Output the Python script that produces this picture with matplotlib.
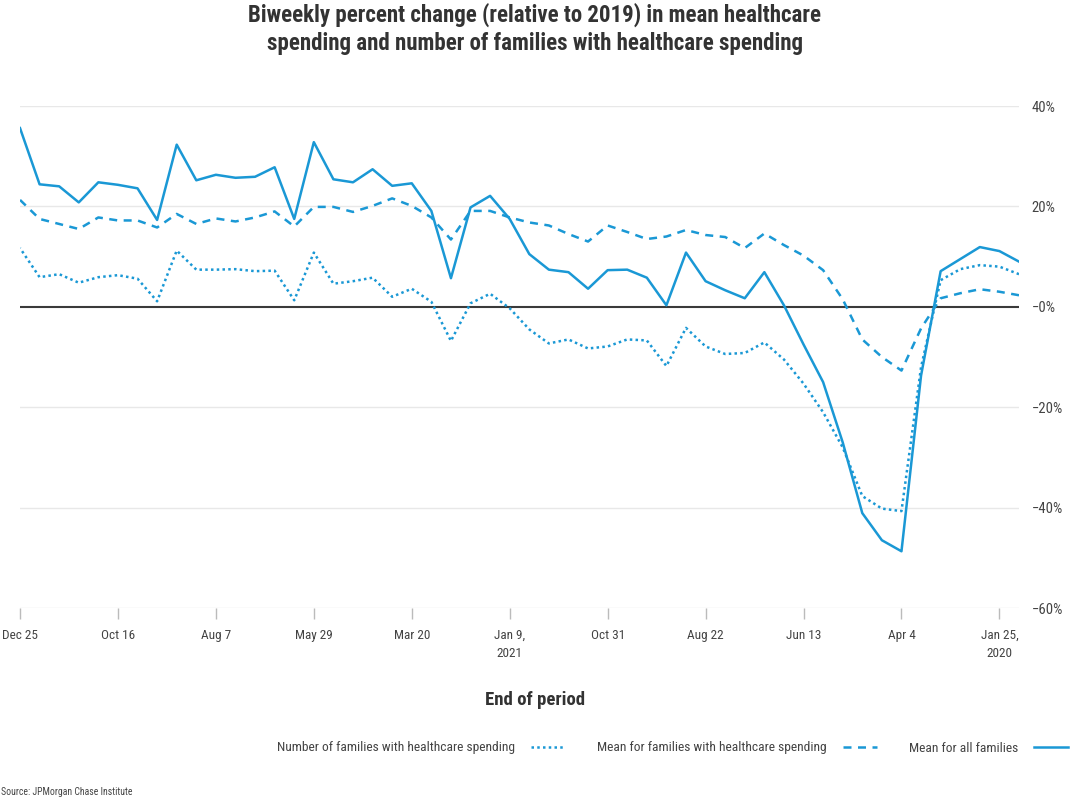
import pandas as pd
import matplotlib
matplotlib.use('Agg')
from matplotlib import pyplot as plt
import matplotlib.font_manager as fm

# look for a narrow font, otherwise shrink the regular one
names = {f.name for f in fm.fontManager.ttflist}
family = 'Liberation Sans'
fs = 0.8
for cand in ['Roboto Condensed', 'Liberation Sans Narrow', 'Open Sans Condensed']:
    if cand in names:
        family = cand
        fs = 1.0
        break
plt.rcParams['font.family'] = [family, 'DejaVu Sans']

# biweekly periods, ending Jan 11 2020 ... Dec 25 2021
periods = pd.date_range('2020-01-11', periods=52, freq='14D')

mean_all = [9.0, 11.1, 11.9, 9.5, 7.1, -13.7, -48.7, -46.5, -41.1, -27.0,
            -15.0, -7.5, 0.3, 6.9, 1.7, 3.3, 5.1, 10.8, 0.3, 5.8,
            7.4, 7.3, 3.6, 6.9, 7.4, 10.5, 17.5, 22.1, 19.8, 5.7,
            19.1, 24.6, 24.1, 27.4, 24.8, 25.4, 32.8, 17.5, 27.8, 25.9,
            25.7, 26.3, 25.2, 32.3, 17.3, 23.6, 24.3, 24.8, 20.8, 24.0,
            24.4, 35.6]
mean_hc = [2.3, 3.0, 3.5, 2.7, 1.7, -4.3, -12.7, -10.0, -6.5, 1.5,
           7.3, 10.2, 12.3, 14.6, 11.7, 13.9, 14.3, 15.3, 14.0, 13.5,
           14.9, 16.2, 13.0, 14.5, 16.2, 16.8, 17.8, 19.1, 19.1, 13.4,
           17.8, 20.1, 21.6, 20.1, 18.9, 19.9, 19.9, 16.0, 19.0, 17.8,
           17.0, 17.6, 16.5, 18.5, 15.8, 17.2, 17.2, 17.8, 15.5, 16.5,
           17.5, 21.3]
n_families = [6.5, 8.0, 8.3, 7.5, 5.3, -12.0, -40.7, -40.2, -37.7, -28.0,
              -21.0, -15.3, -10.5, -7.1, -9.2, -9.4, -7.9, -4.2, -11.8, -6.7,
              -6.5, -7.9, -8.3, -6.5, -7.3, -4.5, -0.3, 2.6, 0.7, -6.8,
              1.0, 3.6, 2.0, 5.8, 5.1, 4.6, 10.8, 1.3, 7.2, 7.1,
              7.5, 7.4, 7.4, 11.2, 1.1, 5.6, 6.3, 5.9, 4.8, 6.5,
              5.9, 11.7]

tick_idx = list(range(1, 52, 5))
tick_labels = ['Jan 25,\n2020', 'Apr 4', 'Jun 13', 'Aug 22', 'Oct 31', 'Jan 9,\n2021',
               'Mar 20', 'May 29', 'Aug 7', 'Oct 16', 'Dec 25']
yticks = [40, 20, 0, -20, -40, -60]
ytick_labels = ['40%', '20%', '\u22120%', '\u221220%', '\u221240%', '\u221260%']

blue = '#1a98d5'
grey = '#444444'

fig = plt.figure(figsize=(10.7, 8), dpi=100)
ax = fig.add_axes([20/1070, 192/800, 999/1070, 502/800])

for y in yticks:
    if y != 0:
        ax.axhline(y, color='#e8e8e8', lw=1, zorder=0)
ax.axhline(0, color='#3a3a3a', lw=1.5, zorder=1)

l1, = ax.plot(periods, mean_all, color=blue, lw=1.8, label='Mean for all families', zorder=3)
l2, = ax.plot(periods, mean_hc, color=blue, lw=1.8, linestyle=(0, (3.2, 2.6)),
              label='Mean for families with healthcare spending', zorder=3)
l3, = ax.plot(periods, n_families, color=blue, lw=1.8, linestyle=(0, (1, 1.3)),
              label='Number of families with healthcare spending', zorder=3)

ax.set_xlim(periods[-1], periods[0])
ax.set_ylim(-60, 40)
ax.set_xticks([periods[i] for i in tick_idx])
ax.set_xticklabels(tick_labels, fontsize=9.5*fs, color=grey, linespacing=1.55)
ax.tick_params(axis='x', length=8, color='#bbbbbb', width=1, pad=7)
ax.yaxis.tick_right()
ax.set_yticks(yticks)
ax.set_yticklabels(ytick_labels, fontsize=10.5*fs, color=grey)
ax.tick_params(axis='y', length=0, pad=9)
for s in ax.spines.values():
    s.set_visible(False)

ax.set_xlabel('End of period', fontsize=13.5*fs, fontweight='bold', color='#333333', labelpad=24)
ax.xaxis.set_label_coords((535 - 20) / 999, -(700 - 608) / 502)
ax.xaxis.label.set_va('center')

fig.text(0.5, 0.997, 'Biweekly percent change (relative to 2019) in mean healthcare\n'
         'spending and number of families with healthcare spending',
         ha='center', va='top', fontsize=16.5*fs, fontweight='bold', color='#333333', linespacing=1.3)

fig.legend(handles=[l3, l2, l1], loc='center right', bbox_to_anchor=(1068/1070, 1 - 748/800), ncol=3,
           frameon=False, markerfirst=False, fontsize=9.7*fs, handlelength=2.5, handletextpad=1.2,
           columnspacing=2.4, labelcolor=grey, borderaxespad=0, borderpad=0)

fig.text(1/1070, 1 - 792/800, 'Source: JPMorgan Chase Institute', fontsize=7*fs, color=grey,
         ha='left', va='center')

fig.savefig('out.png', dpi=100)
plt.close(fig)
